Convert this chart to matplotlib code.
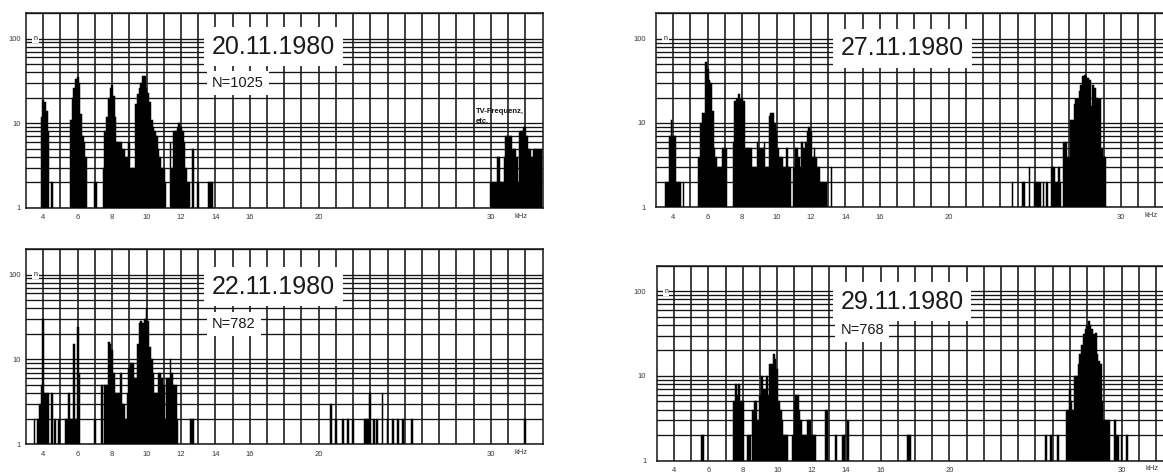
import numpy as np
import matplotlib
matplotlib.use("Agg")
import matplotlib.pyplot as plt
from matplotlib.ticker import LogLocator, NullFormatter, FixedLocator
from matplotlib.transforms import blended_transform_factory

plt.rcParams['font.family'] = ['Liberation Sans', 'DejaVu Sans']

# ---- frequency histograms (kHz bin centre, number of events n) ----
freq_2011 = [3.9, 4.0, 4.1, 4.2, 4.3, 4.5,
             5.6, 5.7, 5.8, 5.9, 6.0, 6.1, 6.2, 6.3, 6.4, 6.5, 7.0, 7.1,
             7.5, 7.6, 7.7, 7.8, 7.9, 8.0, 8.1, 8.2, 8.3, 8.4, 8.5, 8.6, 8.7, 8.8,
             8.9, 9.0, 9.1, 9.2, 9.3,
             9.4, 9.5, 9.6, 9.7, 9.8, 9.9, 10.0, 10.1, 10.2, 10.3, 10.4, 10.5, 10.6,
             10.7, 10.8, 10.9, 11.0,
             11.1, 11.4, 11.5, 11.6, 11.7, 11.8, 11.9, 12.0, 12.1, 12.2, 12.3, 12.4,
             12.5, 12.7, 13.0, 13.6, 13.7, 13.8,
             30.0, 30.1, 30.2, 30.3, 30.4, 30.5, 30.6, 30.7, 30.8, 30.9, 31.0, 31.1,
             31.2, 31.3, 31.4, 31.5, 31.6, 31.7, 31.8, 31.9, 32.0, 32.1, 32.2, 32.3,
             32.4, 32.5, 32.6, 32.7, 32.8, 32.9]
count_2011 = [12, 19, 18, 14, 8, 2,
              11, 20, 26, 33, 35, 30, 13, 7, 6, 4, 2, 2,
              3, 8, 12, 20, 26, 28, 21, 12, 6, 6, 6, 5, 5, 4,
              4, 6, 3, 3, 3,
              17, 22, 26, 30, 36, 36, 26, 23, 18, 11, 9, 8, 7,
              5, 4, 3, 3,
              2, 6, 3, 8, 8, 9, 10, 9, 8, 6, 3, 2,
              2, 5, 2, 2, 2, 2,
              2, 2, 2, 2, 4, 4, 2, 2, 4, 7, 7, 7,
              7, 5, 5, 4, 2, 8, 8, 9, 9, 7, 5, 5,
              4, 5, 5, 5, 5, 5]

freq_2711 = [3.6, 3.7, 3.8, 3.9, 4.0, 4.1, 4.2, 4.3, 4.4, 4.6,
             5.5, 5.6, 5.7, 5.8, 5.9, 6.0, 6.1, 6.2, 6.3, 6.4, 6.5, 6.6, 6.7, 6.8,
             6.9, 7.0, 7.1,
             7.5, 7.6, 7.7, 7.8, 7.9, 8.0, 8.1, 8.2, 8.3, 8.4, 8.5, 8.6, 8.7, 8.8,
             8.9, 9.0, 9.1, 9.2, 9.3, 9.4, 9.5,
             9.6, 9.7, 9.8, 9.9, 10.0, 10.1, 10.2, 10.3, 10.4, 10.5, 10.6, 10.7, 10.8,
             11.0, 11.1, 11.2, 11.3, 11.4, 11.5, 11.6, 11.7, 11.8, 11.9, 12.0, 12.1,
             12.2, 12.3, 12.4, 12.5, 12.6, 12.7, 12.8, 12.9, 13.2,
             23.7, 24.3, 24.4, 24.7, 25.0, 25.1, 25.2, 25.3, 25.5, 25.7, 26.0, 26.1,
             26.2, 26.3, 26.4, 26.5, 26.7, 26.8, 26.9, 27.0, 27.1, 27.2, 27.3, 27.4,
             27.5, 27.6, 27.7, 27.8, 27.9, 28.0, 28.1, 28.2, 28.3, 28.4, 28.5, 28.6,
             28.7, 28.8, 28.9, 29.0, 29.1]
count_2711 = [2, 2, 7, 11, 7, 7, 2, 2, 2, 2,
              4, 10, 13, 13, 53, 44, 32, 30, 14, 5, 4, 3, 3, 3,
              5, 5, 5,
              6, 18, 19, 22, 19, 20, 18, 5, 5, 5, 5, 3, 3, 3,
              6, 5, 5, 5, 6, 3, 3,
              12, 13, 13, 10, 8, 5, 4, 4, 3, 3, 5, 3, 3,
              3, 5, 5, 4, 3, 6, 5, 6, 8, 9, 8, 4,
              5, 4, 3, 3, 2, 2, 2, 2, 3,
              2, 2, 2, 3, 2, 2, 2, 2, 2, 2, 3, 3,
              2, 2, 3, 2, 6, 6, 4, 4, 11, 11, 17, 19,
              19, 24, 28, 36, 37, 35, 34, 32, 16, 28, 26, 20,
              19, 19, 5, 4, 4]

freq_2211 = [3.5, 3.7, 3.8, 3.9, 4.0, 4.1, 4.2, 4.3, 4.5, 4.7, 4.9,
             5.3, 5.4, 5.5, 5.6, 5.7, 5.8, 5.9, 6.0, 6.1,
             7.0, 7.4, 7.6, 7.7, 7.8, 7.9, 8.0, 8.1, 8.2, 8.3, 8.4, 8.5, 8.6, 8.7,
             8.8, 8.9, 9.0, 9.1, 9.2, 9.3, 9.4, 9.5, 9.6, 9.7, 9.8, 9.9, 10.0, 10.1,
             10.2, 10.3, 10.4, 10.5, 10.6, 10.7, 10.8, 10.9, 11.0, 11.1, 11.2, 11.3,
             11.4, 11.5, 11.6, 11.7, 11.8, 12.6, 12.7,
             20.7, 21.0, 21.4, 21.7, 22.0, 22.7, 22.8, 22.9, 23.0, 23.2, 23.4, 23.7,
             24.0, 24.3, 24.6, 24.9, 25.4, 32.0]
count_2211 = [2, 2, 3, 5, 30, 4, 4, 4, 4, 2, 2,
              2, 2, 4, 2, 2, 15, 2, 24, 7,
              2, 5, 5, 5, 16, 15, 13, 7, 4, 4, 4, 7, 3, 3,
              2, 4, 8, 9, 9, 6, 6, 15, 27, 28, 27, 30, 40, 28,
              14, 10, 7, 4, 4, 7, 7, 6, 5, 2, 6, 6,
              10, 7, 5, 5, 2, 2, 2,
              3, 2, 2, 2, 2, 2, 2, 2, 4, 2, 2, 4,
              2, 2, 2, 2, 2, 2]

freq_2911 = [5.6, 5.7,
             7.5, 7.6, 7.7, 7.8, 7.9, 8.0, 8.3, 8.4,
             8.6, 8.7, 8.8, 8.9, 9.0, 9.1, 9.2, 9.3, 9.4, 9.5, 9.6, 9.7, 9.8, 9.9,
             10.0, 10.1, 10.2, 10.3, 10.4, 10.5, 10.6, 10.9, 11.0, 11.1, 11.2, 11.3,
             11.4, 11.5, 11.6, 11.7, 11.8, 11.9, 12.0, 12.1, 12.2, 12.8, 12.9, 13.4,
             13.8, 13.9, 14.1,
             17.6, 17.7, 25.6, 25.9, 26.3, 26.8, 26.9, 27.0, 27.1, 27.2, 27.3, 27.4,
             27.5, 27.6, 27.7, 27.8, 27.9, 28.0, 28.1, 28.2, 28.3, 28.4, 28.5, 28.6,
             28.7, 28.8, 28.9, 29.0, 29.1, 29.2, 29.3, 29.6, 29.7, 29.8, 30.0, 30.3]
count_2911 = [2, 2,
              5, 8, 6, 8, 5, 5, 2, 2,
              4, 5, 5, 3, 6, 10, 7, 7, 10, 6, 14, 14, 18, 16,
              12, 5, 4, 3, 2, 2, 2, 2, 5, 6, 6, 4,
              3, 2, 2, 2, 3, 3, 2, 2, 2, 4, 4, 2,
              2, 2, 3,
              2, 2, 2, 2, 2, 4, 4, 7, 5, 4, 10, 10,
              14, 18, 23, 31, 36, 39, 45, 40, 36, 31, 32, 18,
              15, 14, 5, 3, 3, 3, 3, 3, 2, 2, 2, 2]

x_ticks = [4, 6, 8, 10, 12, 14, 16, 20, 30]
y_ticks = [1, 10, 100]
BIN = 0.1

fig = plt.figure(figsize=(11.63, 4.73), dpi=100)
fig.patch.set_facecolor('white')

INK = '#151515'


def draw_panel(rect, freq, count, date, n_label, date_y, n_y, date_x, ypad):
    ax = fig.add_axes(rect)
    ax.set_yscale('log')
    ax.set_xlim(3, 33)
    ax.set_ylim(1, 200)

    # measurement grid: 1 kHz verticals, log-decade horizontals
    ax.xaxis.set_major_locator(FixedLocator(x_ticks))
    ax.xaxis.set_minor_locator(FixedLocator(np.arange(4, 33)))
    ax.set_xticklabels([str(t) for t in x_ticks])
    ax.yaxis.set_major_locator(FixedLocator(y_ticks))
    ax.set_yticklabels([str(t) for t in y_ticks])
    ax.yaxis.set_minor_locator(LogLocator(base=10, subs=np.arange(2, 10)))
    ax.yaxis.set_minor_formatter(NullFormatter())
    ax.grid(which='both', axis='x', color=INK, lw=1.15)
    ax.grid(which='both', axis='y', color=INK, lw=0.95)
    ax.set_axisbelow(True)
    ax.tick_params(which='both', length=0)
    ax.tick_params(axis='x', labelsize=5.5, labelcolor='#3a3a3a', pad=4.5)
    ax.tick_params(axis='y', labelsize=5.5, labelcolor='#3a3a3a', pad=ypad)
    for s in ax.spines.values():
        s.set_color(INK)
        s.set_linewidth(1.1)

    f = np.asarray(freq)
    c = np.asarray(count, dtype=float)
    ax.bar(f, c - 1, bottom=1, width=BIN, color='black',
           edgecolor='black', linewidth=0.35, zorder=3)

    trans = blended_transform_factory(ax.transData, ax.transAxes)
    ax.text(31.75, -0.042, 'kHz', transform=trans, fontsize=5.5,
            color='#3a3a3a', ha='center', va='center', clip_on=False)
    ax.text(3.55, 100, 'n', fontsize=5, color=INK, ha='center', va='center',
            bbox=dict(boxstyle='square,pad=0.15', fc='white', ec='none'),
            zorder=6)

    ax.text(date_x, date_y, date, transform=ax.transAxes, fontsize=18,
            color='#1a1a1a', ha='left', va='center', zorder=7,
            bbox=dict(boxstyle='square,pad=0.3', fc='white', ec='none'))
    if n_label:
        ax.text(date_x, n_y, n_label, transform=ax.transAxes, fontsize=10.5,
                color='#1a1a1a', ha='left', va='center', zorder=6,
                bbox=dict(boxstyle='square,pad=0.35', fc='white', ec='none'))
    return ax


W = 516.5 / 1163
ax_a = draw_panel([26 / 1163, 265 / 473, W, 195 / 473], freq_2011, count_2011,
                  '20.11.1980', 'N=1025', 0.827, 0.643, 0.36, 3.6)
ax_a.text(29.15, 12, 'TV-Frequenz,\netc.', fontsize=5.5, fontweight='bold',
          color=INK, ha='left', va='center', linespacing=1.5, zorder=6)

draw_panel([656 / 1163, 265.7 / 473, W, 194 / 473], freq_2711, count_2711,
           '27.11.1980', None, 0.821, 0.0, 0.358, 7.5)
draw_panel([26 / 1163, 28.7 / 473, W, 195.3 / 473], freq_2211, count_2211,
           '22.11.1980', 'N=782', 0.807, 0.614, 0.36, 3.6)
draw_panel([656.7 / 1163, 12.3 / 473, W, 195 / 473], freq_2911, count_2911,
           '29.11.1980', 'N=768', 0.815, 0.67, 0.356, 7.5)

fig.savefig('out.png', dpi=100, facecolor='white')
